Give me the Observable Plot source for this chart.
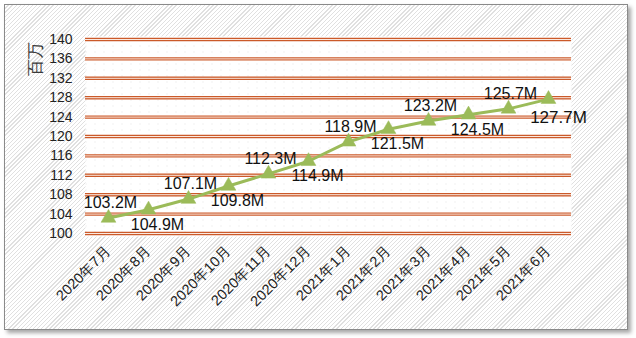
<!DOCTYPE html>
<html>
<head>
<meta charset="utf-8">
<script src="https://cdn.jsdelivr.net/npm/d3@7"></script>
<script src="https://cdn.jsdelivr.net/npm/@observablehq/plot@0.6"></script>
<style>
  html, body { margin: 0; padding: 0; background: #fff; }
  #wrap { position: relative; width: 636px; height: 338px; overflow: hidden; }
  #box {
    position: absolute; left: 4px; top: 4px; width: 622px; height: 324px;
    border: 1px solid #8a8a8a;
    box-shadow: 3px 3px 4px rgba(0,0,0,0.35);
    background: repeating-linear-gradient(135deg, #ffffff 0px, #ffffff 2.0px, #e0e0e0 2.0px, #e0e0e0 2.9px);
  }
  #chart { position: absolute; left: 0; top: 0; }
</style>
</head>
<body>
<div id="wrap"><div id="box"></div><div id="chart"></div></div>
<script>
const months = ["2020年7月","2020年8月","2020年9月","2020年10月","2020年11月","2020年12月",
                "2021年1月","2021年2月","2021年3月","2021年4月","2021年5月","2021年6月"];
const values = [103.2, 104.9, 107.1, 109.8, 112.3, 114.9, 118.9, 121.5, 123.2, 124.5, 125.7, 127.7];
const yTicks = [100, 104, 108, 112, 116, 120, 124, 128, 132, 136, 140];
const labels = ["103.2M","104.9M","107.1M","109.8M","112.3M","114.9M","118.9M","121.5M","123.2M","124.5M","125.7M","127.7M"];
const yTitle = "百万";

const data = months.map((m, i) => ({month: m, value: values[i], label: labels[i], i}));
const above = data.filter(d => d.i % 2 === 0);
const below = data.filter(d => d.i % 2 === 1 && d.i !== data.length - 1);
const last = data.filter(d => d.i === data.length - 1);

const green = "#9BBB59";
const orange = "#CB5A2A";

const chart = Plot.plot({
  width: 636, height: 338,
  marginLeft: 85, marginRight: 65, marginTop: 39, marginBottom: 105,
  style: {background: "transparent", fontFamily: "'Liberation Sans', Arial, sans-serif", fontSize: "13px", color: "#222"},
  x: {type: "point", domain: months, padding: 0.5, label: null},
  y: {domain: [100, 140], label: null},
  marks: [
    Plot.frame({fill: "url(#dotpat)", stroke: "none", insetTop: -3, insetBottom: -3}),
    Plot.ruleY(yTicks, {stroke: orange, strokeWidth: 3.4}),
    Plot.ruleY(yTicks, {stroke: "#fbe9e0", strokeWidth: 1}),
    Plot.axisY({ticks: yTicks, tickSize: 0, tickPadding: 13, fontSize: 14, label: null, fill: "#222"}),
    Plot.axisX({tickSize: 0, tickPadding: 15, tickRotate: -45, fontSize: 14.5, label: null, fill: "#222"}),
    Plot.text([yTitle], {frameAnchor: "top-left", dx: -50, dy: 19, rotate: -90, textAnchor: "middle", lineAnchor: "middle", fontSize: 17, fill: "#3a3a3a", text: d => d}),
    Plot.line(data, {x: "month", y: "value", stroke: green, strokeWidth: 3}),
    Plot.dot(data, {x: "month", y: "value", symbol: "triangle", r: 5.5, fill: green, stroke: green, strokeWidth: 0.5}),
    Plot.text(above, {x: "month", y: "value", text: "label", dx: 2, dy: -15, fontSize: 16, fill: "#111"}),
    Plot.text(below, {x: "month", y: "value", text: "label", dx: 9, dy: 15, fontSize: 16, fill: "#111"}),
    Plot.text(last, {x: "month", y: "value", text: "label", dx: 10, dy: 18, fontSize: 17, fill: "#111"})
  ]
});

const svgNS = "http://www.w3.org/2000/svg";
const defs = document.createElementNS(svgNS, "defs");
defs.innerHTML = `<pattern id="dotpat" width="9" height="6" patternUnits="userSpaceOnUse">
  <rect width="9" height="6" fill="#ffffff"/>
  <rect x="4" y="3" width="1" height="1" fill="#e2e2e2"/>
</pattern>`;
chart.insertBefore(defs, chart.firstChild);
document.getElementById("chart").appendChild(chart);
</script>
</body>
</html>
